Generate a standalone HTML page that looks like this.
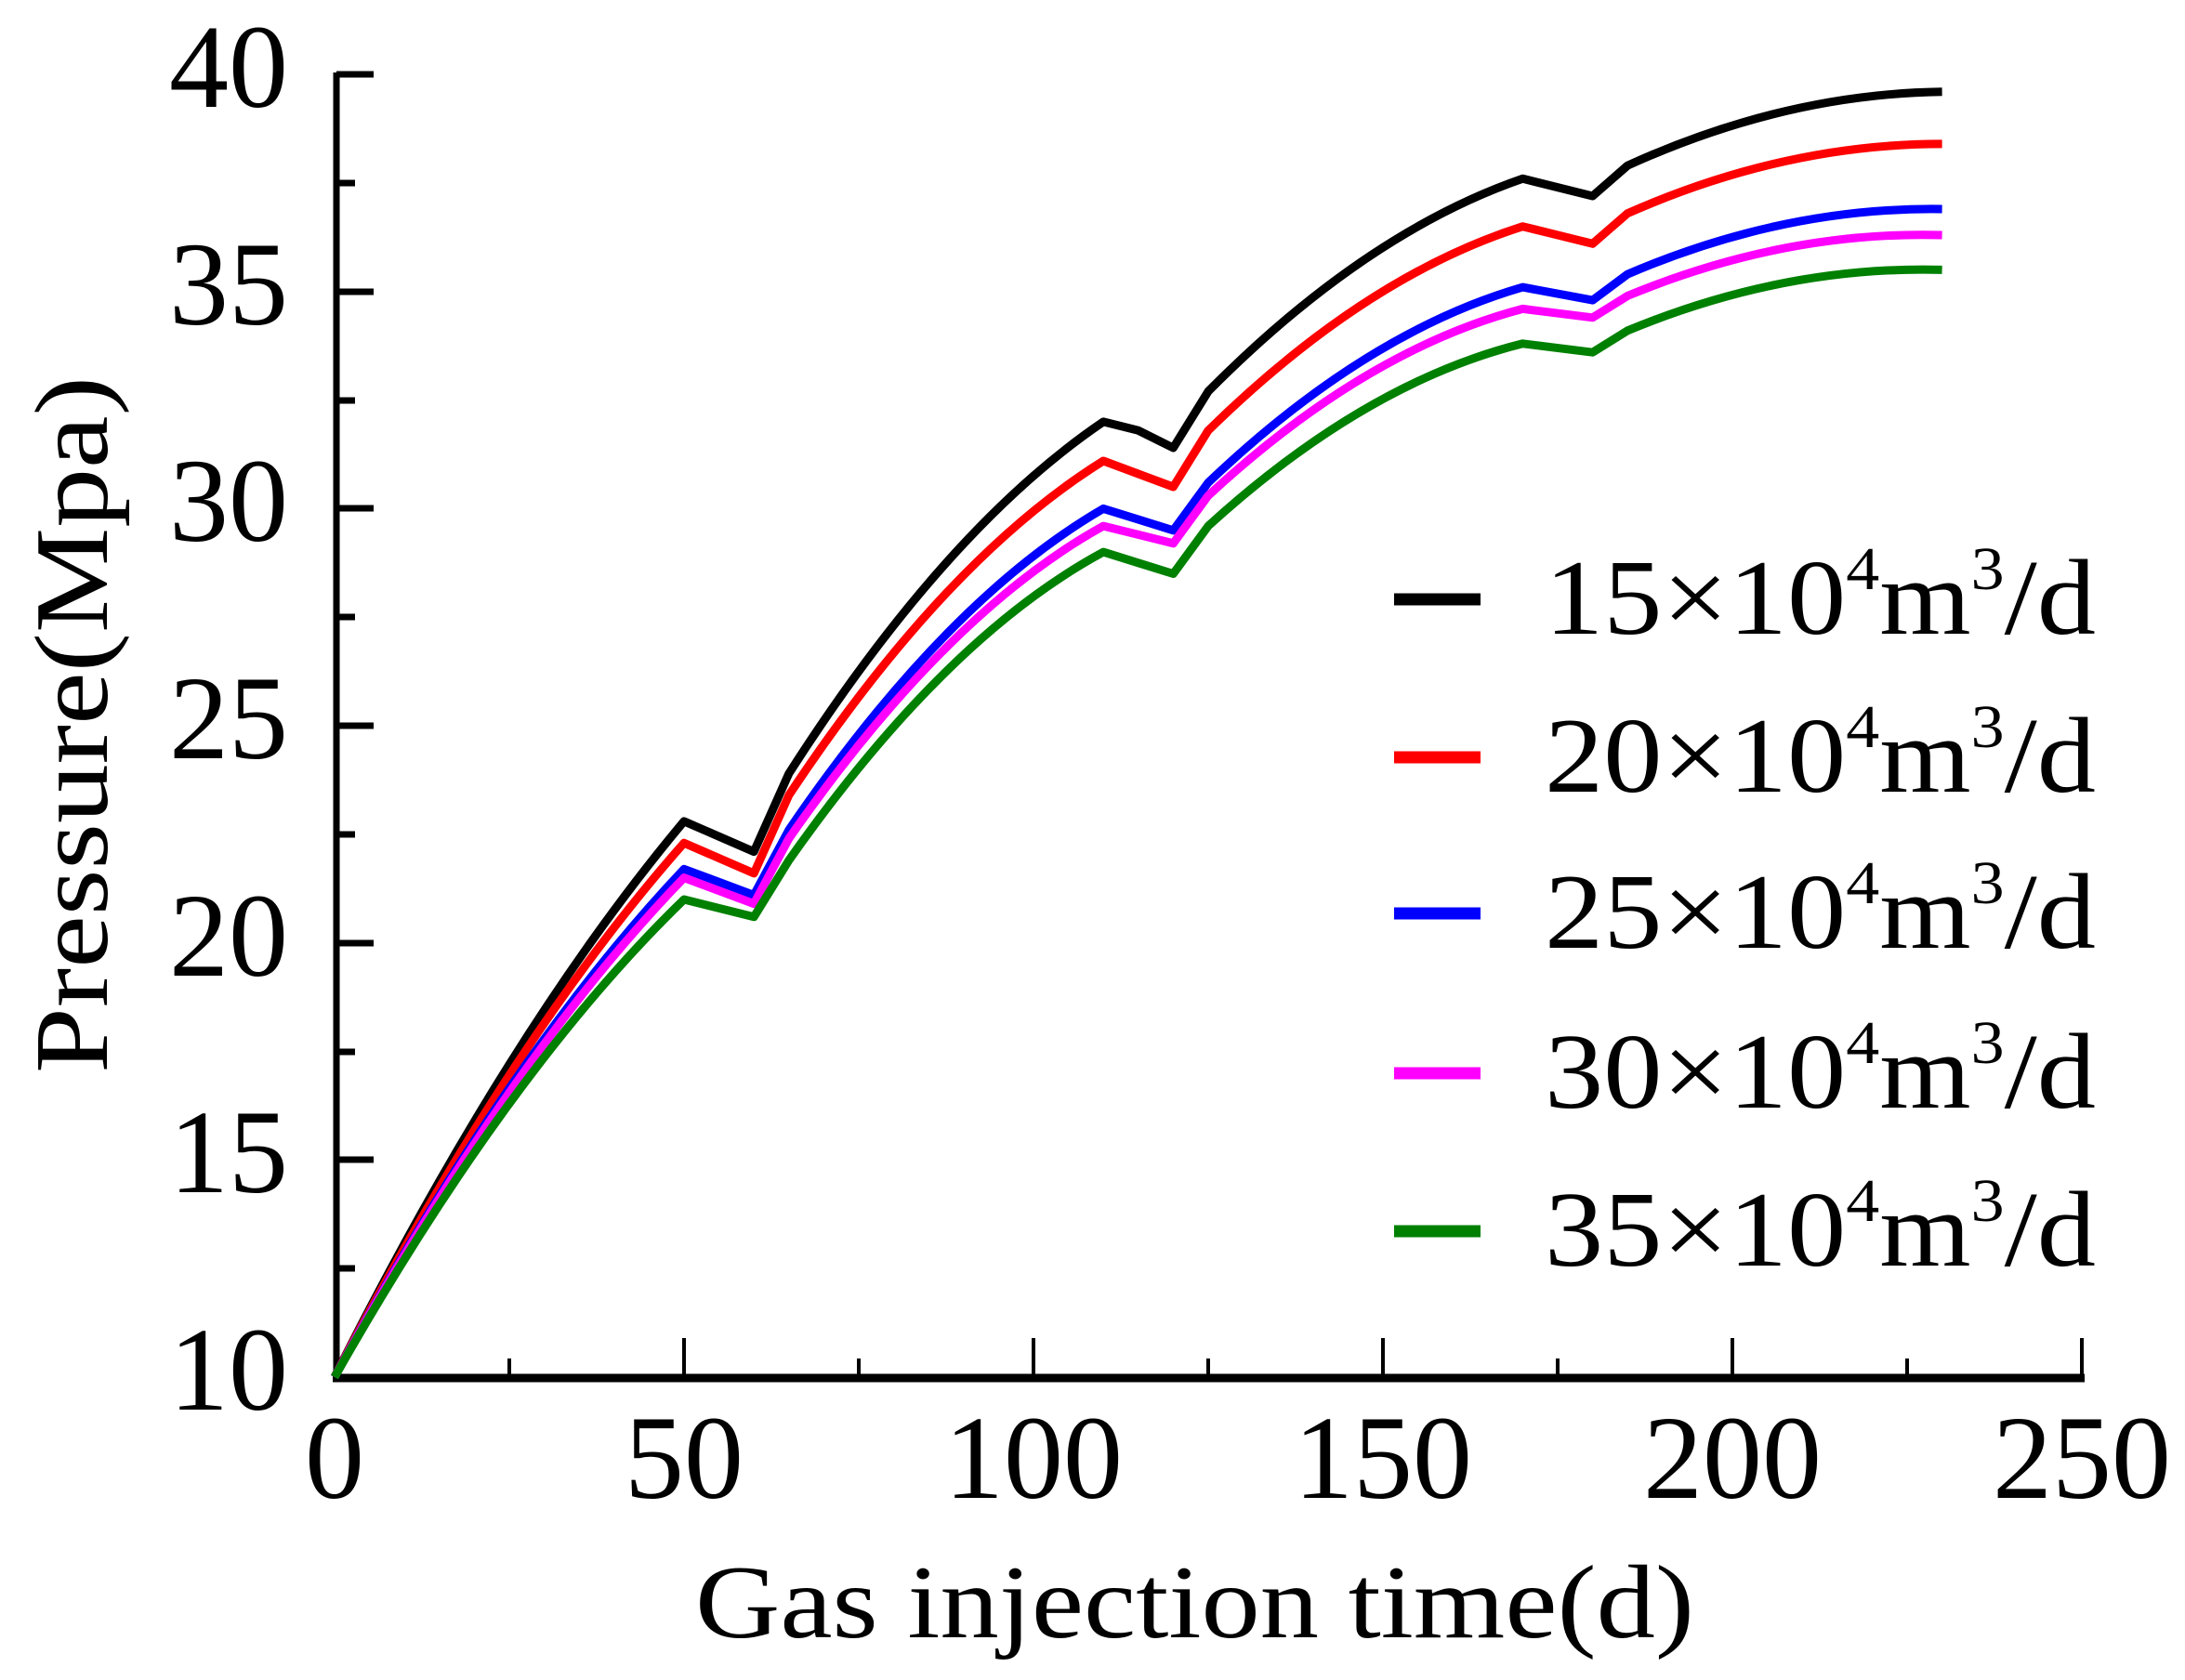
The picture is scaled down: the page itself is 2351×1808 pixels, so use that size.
<!DOCTYPE html>
<html><head><meta charset="utf-8"><style>html,body{margin:0;padding:0;background:#fff}svg{display:block}</style></head>
<body>
<svg width="2351" height="1808" viewBox="0 0 2351 1808" xmlns="http://www.w3.org/2000/svg" font-family="'Liberation Serif', serif">
<g stroke="#000" fill="none">
<path d="M362 78 V1482 H2243" stroke-width="7"/>
<path d="M358 1483 H2243" stroke-width="9"/>
<g stroke-width="7">
<path d="M362 80 h40 M362 314 h40 M362 547 h40 M362 781 h40 M362 1015 h40 M362 1248 h40"/>
<path d="M362 197 h20 M362 431 h20 M362 664 h20 M362 898 h20 M362 1132 h20 M362 1365 h20"/>
</g>
<g stroke-width="4">
<path d="M736 1482 v-42 M1112 1482 v-42 M1488 1482 v-42 M1864 1482 v-42 M2240 1482 v-42"/>
<path d="M548 1482 v-20 M924 1482 v-20 M1300 1482 v-20 M1676 1482 v-20 M2052 1482 v-20"/>
</g>
</g>
<g font-size="128" text-anchor="end" fill="#000">
<text x="310" y="115">40</text><text x="310" y="349">35</text><text x="310" y="582">30</text>
<text x="310" y="816">25</text><text x="310" y="1050">20</text><text x="310" y="1283">15</text><text x="310" y="1517">10</text>
</g>
<g font-size="128" text-anchor="middle" fill="#000">
<text x="360" y="1612">0</text><text x="736" y="1612">50</text><text x="1112" y="1612">100</text>
<text x="1488" y="1612">150</text><text x="1864" y="1612">200</text><text x="2240" y="1612">250</text>
</g>
<text x="748" y="1762" font-size="112" textLength="1075" lengthAdjust="spacingAndGlyphs">Gas injection time(d)</text>
<text transform="translate(115,1155) rotate(-90)" font-size="112" textLength="750" lengthAdjust="spacingAndGlyphs">Pressure(Mpa)</text>
<g fill="none" stroke-width="9" stroke-linejoin="round">
<path stroke="#000" d="M360 1482 Q548 1108.2 736 883.9 L811.2 916.6 L848.8 832.5 Q1018 568.4 1187.2 453.9 L1224.8 463.3 L1262.4 482 L1300 421.2 Q1469.2 250.7 1638.4 192.3 L1713.6 211 L1751.2 178.2 Q1920.4 101.1 2089.6 98.8"/>
<path stroke="#ff0000" d="M360 1482 Q548 1119.8 736 907.2 L811.2 939.9 L848.8 855.8 Q1018 601.1 1187.2 496 L1224.8 510 L1262.4 524 L1300 463.3 Q1469.2 297.4 1638.4 243.7 L1713.6 262.3 L1751.2 229.6 Q1920.4 154.9 2089.6 154.9"/>
<path stroke="#0000ff" d="M360 1482 Q548 1133.9 736 935.3 L811.2 963.3 L848.8 893.2 Q1018 645.5 1187.2 547.4 L1224.8 559.1 L1262.4 570.8 L1300 519.4 Q1469.2 358.1 1638.4 309.1 L1713.6 323.1 L1751.2 295.1 Q1920.4 222.6 2089.6 225"/>
<path stroke="#ff00ff" d="M360 1482 Q548 1138.5 736 944.6 L811.2 972.6 L848.8 902.5 Q1018 659.6 1187.2 566.1 L1224.8 575.4 L1262.4 584.8 L1300 533.4 Q1469.2 376.8 1638.4 332.4 L1713.6 341.8 L1751.2 318.4 Q1920.4 248.3 2089.6 253"/>
<path stroke="#008000" d="M360 1482 Q548 1150.2 736 968 L811.2 986.7 L848.8 925.9 Q1018 685.3 1187.2 594.1 L1224.8 605.8 L1262.4 617.5 L1300 566.1 Q1469.2 411.9 1638.4 369.8 L1713.6 379.2 L1751.2 355.8 Q1920.4 285.7 2089.6 290.4"/>
</g>
<g stroke-width="13">
<line x1="1500" y1="645" x2="1593" y2="645" stroke="#000"/>
<line x1="1500" y1="815" x2="1593" y2="815" stroke="#ff0000"/>
<line x1="1500" y1="983" x2="1593" y2="983" stroke="#0000ff"/>
<line x1="1500" y1="1155" x2="1593" y2="1155" stroke="#ff00ff"/>
<line x1="1500" y1="1325" x2="1593" y2="1325" stroke="#008000"/>
</g>
<g font-size="116" fill="#000">
<text x="1662" y="682" textLength="593" lengthAdjust="spacingAndGlyphs">15×10<tspan font-size="66" dy="-48">4</tspan><tspan dy="48">m</tspan><tspan font-size="66" dy="-48">3</tspan><tspan dy="48">/d</tspan></text>
<text x="1662" y="852" textLength="593" lengthAdjust="spacingAndGlyphs">20×10<tspan font-size="66" dy="-48">4</tspan><tspan dy="48">m</tspan><tspan font-size="66" dy="-48">3</tspan><tspan dy="48">/d</tspan></text>
<text x="1662" y="1020" textLength="593" lengthAdjust="spacingAndGlyphs">25×10<tspan font-size="66" dy="-48">4</tspan><tspan dy="48">m</tspan><tspan font-size="66" dy="-48">3</tspan><tspan dy="48">/d</tspan></text>
<text x="1662" y="1192" textLength="593" lengthAdjust="spacingAndGlyphs">30×10<tspan font-size="66" dy="-48">4</tspan><tspan dy="48">m</tspan><tspan font-size="66" dy="-48">3</tspan><tspan dy="48">/d</tspan></text>
<text x="1662" y="1362" textLength="593" lengthAdjust="spacingAndGlyphs">35×10<tspan font-size="66" dy="-48">4</tspan><tspan dy="48">m</tspan><tspan font-size="66" dy="-48">3</tspan><tspan dy="48">/d</tspan></text>
</g>
</svg>
</body></html>
